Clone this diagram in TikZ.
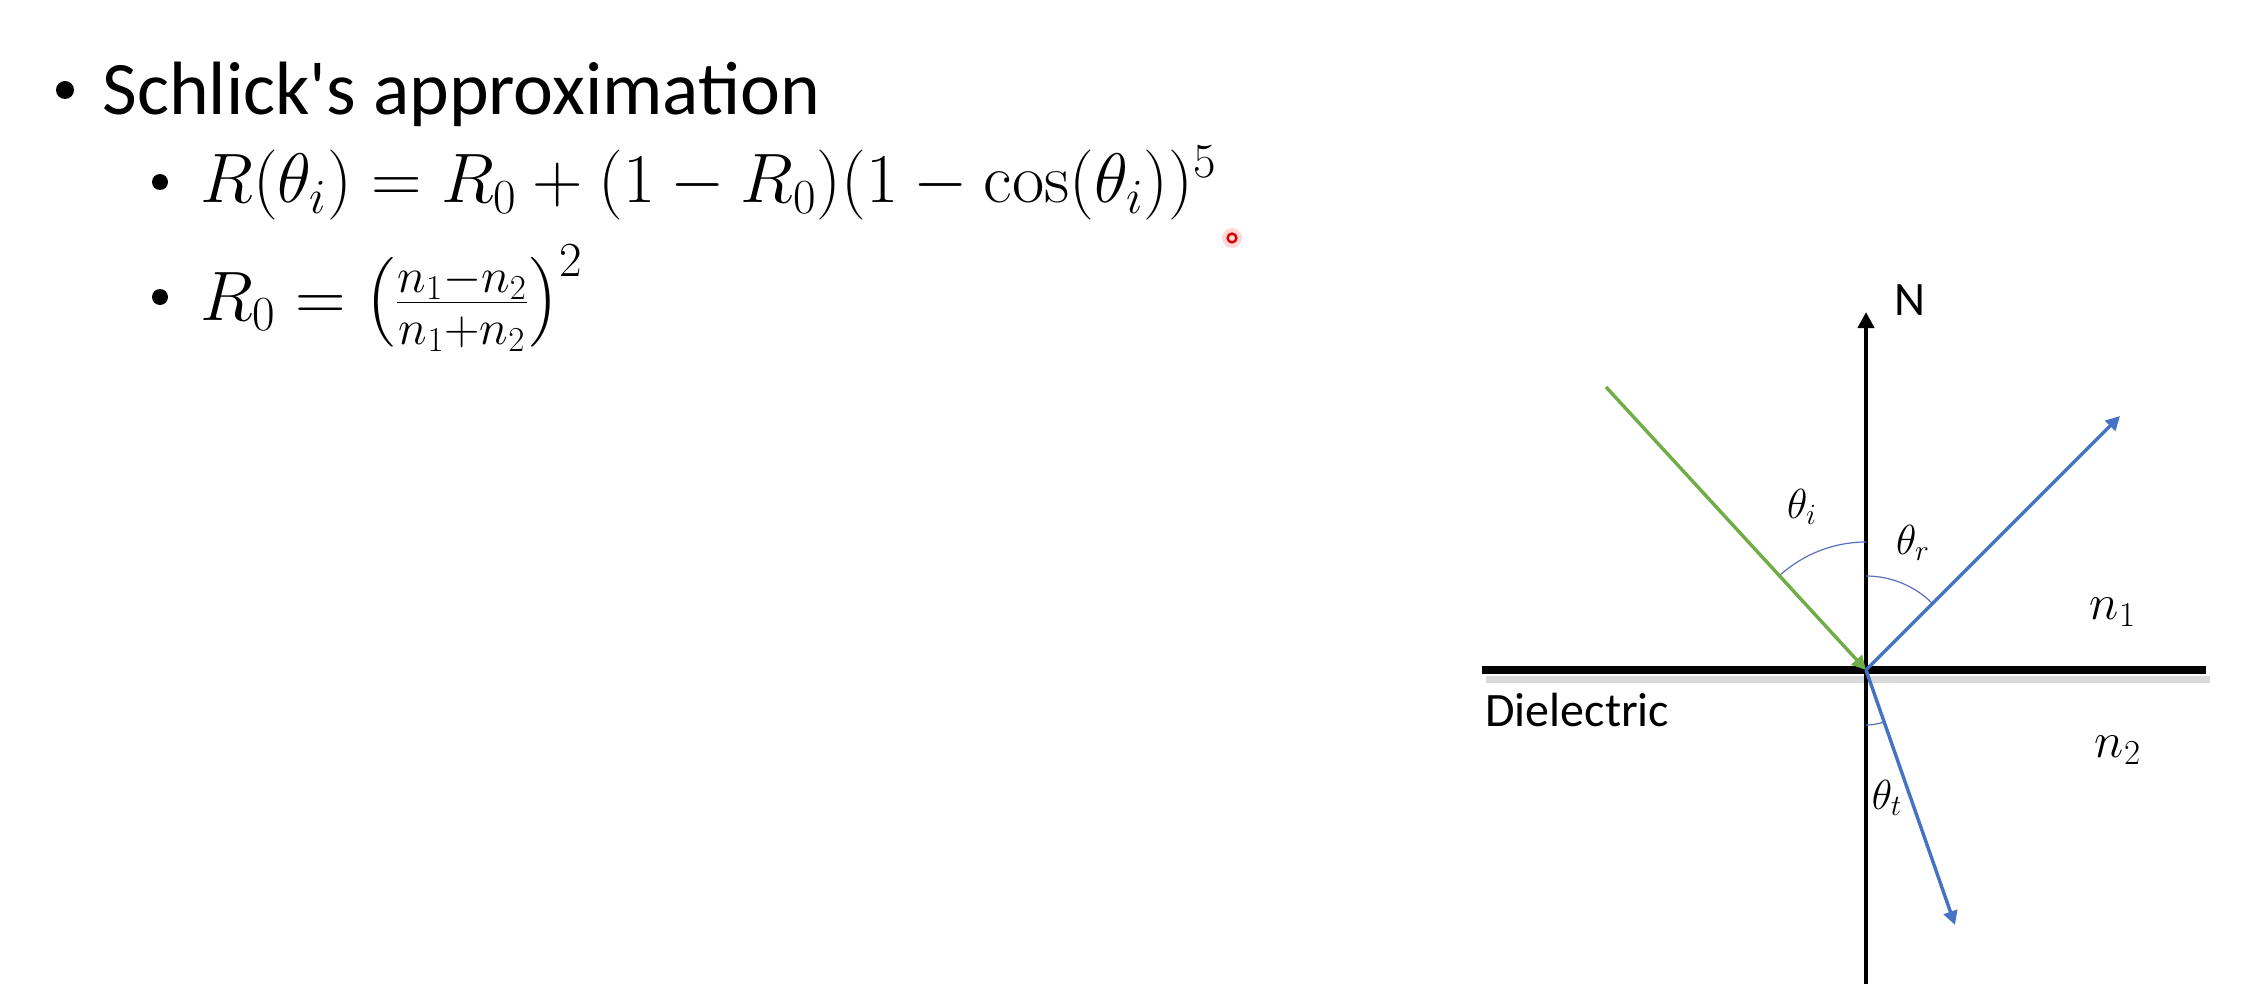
\RequirePackage{fix-cm}
\documentclass[tikz,border=0pt]{standalone}
\usepackage{fontspec}
\usepackage{amsmath}
\newfontfamily\calibri{Carlito}
\usetikzlibrary{arrows.meta}
\definecolor{offgreen}{HTML}{70AD47}
\definecolor{offblue}{HTML}{4472C4}
\definecolor{arcblue}{HTML}{5B6FC0}
\tikzset{
  bulletdot/.style={circle, fill=black, inner sep=0pt},
  bodytext/.style={inner sep=0pt, font=\calibri\fontsize{37.8}{42}\selectfont},
  smalltext/.style={inner sep=0pt, font=\calibri\fontsize{24}{28}\selectfont},
  mathbig/.style={inner sep=0pt, font=\fontsize{35}{40}\selectfont},
  thetalab/.style={inner sep=0pt, font=\fontsize{21}{24}\selectfont},
  nlab/.style={inner sep=0pt, font=\fontsize{25}{28}\selectfont},
  axis/.style={line width=2pt, -{Triangle[length=8pt,width=8pt]}},
  surface/.style={line width=4pt},
  ray/.style={line width=1.7pt, -{Triangle[length=7pt,width=7pt]}},
  anglearc/.style={draw=arcblue, line width=0.6pt},
}
\begin{document}
\begin{tikzpicture}[x=0.5pt, y=-0.5pt]
\useasboundingbox (0,0) rectangle (2252,984);
\fill[white] (0,0) rectangle (2252,984);

% text bullets
\node[bulletdot, minimum size=9pt] (b1) at (65,90) {};
\node[bodytext, anchor=base west] (title) at (102,115) {Schlick's approximation};
\node[bulletdot, minimum size=8pt] (b2) at (160,182) {};
\node[mathbig, anchor=base west] (eq1) at (200,203) {$R(\theta_i) = R_0 + (1 - R_0)(1 - \cos(\theta_i))^5$};
\node[bulletdot, minimum size=8pt] (b3) at (160,297) {};
\node[mathbig, anchor=base west] (eq2) at (200,320) {$R_0 = \left(\frac{n_1 - n_2}{n_1 + n_2}\right)^2$};

% pointer dot
\fill[red!25, opacity=0.6] (1232,238) circle (5pt);
\draw[red!85!black, line width=1.2pt] (1232,238) circle (2.2pt);

% diagram coordinates
\coordinate (O) at (1866,670);
\coordinate (Ntip) at (1866,312);
\coordinate (Vbot) at (1866,984);
\coordinate (Hleft) at (1482,670);
\coordinate (Hright) at (2206,670);
\coordinate (Gstart) at (1606,387);
\coordinate (Rend) at (2120,416);
\coordinate (Tend) at (1955,925);

% surface with shadow
\draw[black!15, line width=3.5pt] (1486,679) -- (2210,679);
\draw[surface] (Hleft) -- (Hright);

% normal
\draw[axis] (Vbot) -- (Ntip);
\node[smalltext] (Nlab) at (1910,300) {N};

% angle arcs
\draw[anglearc] (1866,542) arc[start angle=-90, end angle=-132.6, radius=128];
\draw[anglearc] (1866,576) arc[start angle=-90, end angle=-45, radius=94];
\draw[anglearc] (1866,725) arc[start angle=90, end angle=70.8, radius=55];

% rays
\draw[ray, offgreen] (Gstart) -- (O);
\draw[ray, offblue] (O) -- (Rend);
\draw[ray, offblue] (O) -- (Tend);

% labels
\node[thetalab] (ti) at (1802,507) {$\theta_i$};
\node[thetalab] (tr) at (1913,543) {$\theta_r$};
\node[thetalab] (tt) at (1887,798) {$\theta_t$};
\node[nlab] (n1) at (2113,612) {$n_1$};
\node[nlab] (n2) at (2118,750) {$n_2$};
\node[smalltext, anchor=base west] (diel) at (1485,726) {Dielectric};
\end{tikzpicture}
\end{document}
